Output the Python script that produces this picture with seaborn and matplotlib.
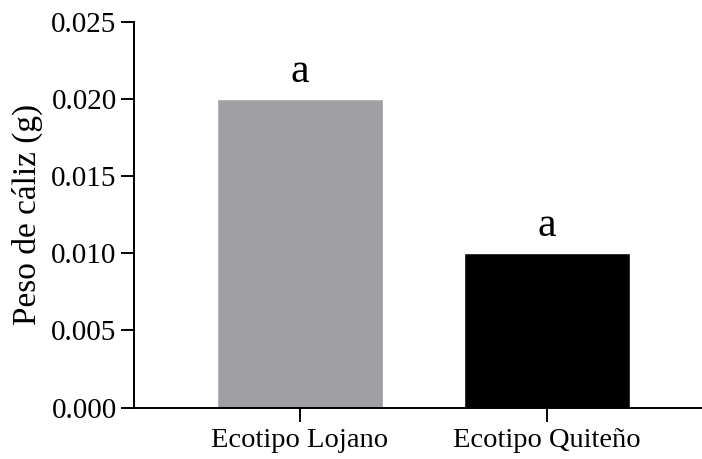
import matplotlib
matplotlib.use("Agg")
import matplotlib.pyplot as plt
import pandas as pd
import seaborn as sns

ecotipos = ["Ecotipo Lojano", "Ecotipo Quiteño"]
peso_caliz = [0.020, 0.010]
letras = ["a", "a"]
colores = ["#A0A0A4", "#000000"]

sns.set_theme(style="ticks")
plt.rcParams["font.family"] = ["Liberation Serif", "DejaVu Serif"]
plt.rcParams["text.color"] = "black"
plt.rcParams["axes.labelcolor"] = "black"

df = pd.DataFrame({"ecotipo": ecotipos, "peso": peso_caliz})

fig = plt.figure(figsize=(7.02, 4.59), dpi=100)
ax = fig.add_axes([0.191, 0.112, 0.809, 0.840])
sns.barplot(data=df, x="ecotipo", y="peso", hue="ecotipo", palette=colores,
            width=0.67, saturation=1, legend=False, ax=ax)

for i, (v, t) in enumerate(zip(peso_caliz, letras)):
    ax.text(i, v + 0.0011, t, ha="center", va="baseline", fontsize=30)

ax.set_xlim(-0.672, 1.628)
ax.set_ylim(0, 0.025)
ax.set_yticks([0, 0.005, 0.010, 0.015, 0.020, 0.025])
ax.set_yticklabels([f"{v:.3f}" for v in ax.get_yticks()])
ax.set_xlabel("")
ax.set_ylabel("Peso de cáliz (g)", fontsize=24, labelpad=6)
ax.tick_params(axis="y", labelsize=21, width=1.4, length=9.5, pad=3,
               color="black", labelcolor="black")
ax.tick_params(axis="x", labelsize=20.5, width=1.4, length=10, pad=5,
               color="black", labelcolor="black")
for s in ["left", "bottom"]:
    ax.spines[s].set_linewidth(1.4)
    ax.spines[s].set_color("black")
sns.despine(ax=ax)

fig.savefig("out.png", dpi=100)
